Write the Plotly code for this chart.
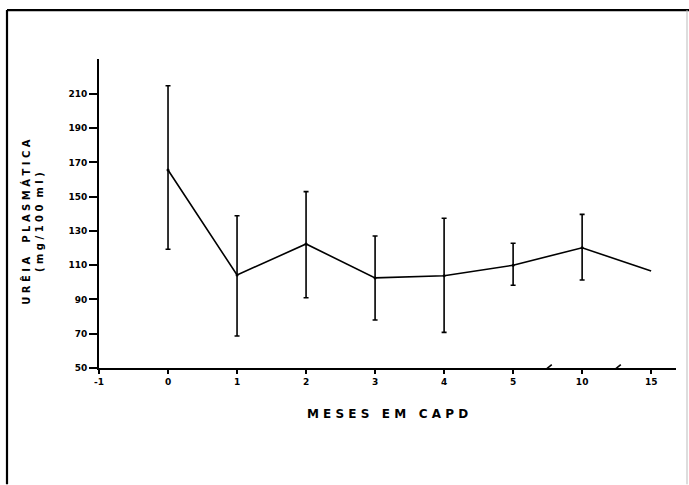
import plotly.graph_objects as go

# Data
months = ["-1", "0", "1", "2", "3", "4", "5", "10", "15"]
mean_months = ["0", "1", "2", "3", "4", "5", "10", "15"]
urea_mean = [165.6, 104.3, 122.4, 102.6, 103.9, 110.0, 120.2, 106.6]
err_months = ["0", "1", "2", "3", "4", "5", "10"]
err_upper = [214.8, 138.9, 153.0, 127.1, 137.4, 122.8, 139.7]
err_lower = [119.3, 68.7, 91.0, 78.0, 70.8, 98.3, 101.4]
y_ticks = [50, 70, 90, 110, 130, 150, 170, 190, 210]

pos = {m: i for i, m in enumerate(months)}
x_mean = [pos[m] for m in mean_months]
x_err = [pos[m] for m in err_months]
err_means = urea_mean[:len(err_months)]
plus = [u - m for u, m in zip(err_upper, err_means)]
minus = [m - l for l, m in zip(err_lower, err_means)]

font_fam = "DejaVu Sans"
fig = go.Figure()
fig.add_trace(go.Scatter(x=x_mean, y=urea_mean, mode="lines",
                         line=dict(color="black", width=1.6),
                         hoverinfo="skip", showlegend=False))
fig.add_trace(go.Scatter(x=x_err, y=err_means, mode="markers",
                         marker=dict(color="black", size=3),
                         error_y=dict(type="data", symmetric=False, array=plus,
                                      arrayminus=minus, color="black",
                                      thickness=1.6, width=2.5),
                         showlegend=False))

L, R, T, B = 99, 13, 59, 116.5
W, H = 689, 485
pw, ph = W - L - R, H - T - B
def px(x):
    return (x - L) / pw
def py(y):
    return (H - B - y) / ph

shapes = [
    dict(type="line", xref="paper", yref="paper", x0=px(7), x1=px(7), y0=py(10), y1=py(485),
         line=dict(color="black", width=2.2)),
    dict(type="line", xref="paper", yref="paper", x0=px(7), x1=px(689), y0=py(10), y1=py(10),
         line=dict(color="black", width=2.2)),
    dict(type="line", xref="paper", yref="paper", x0=px(687), x1=px(687), y0=py(10), y1=py(485),
         line=dict(color="#bbbbbb", width=1)),
]
for bx in [6.5, 7.5]:
    shapes.append(dict(type="line", xref="x", yref="y", x0=bx - 0.06, x1=bx + 0.06,
                       y0=48, y1=52, line=dict(color="black", width=1.6)))

fig.update_layout(
    width=W, height=H,
    margin=dict(l=L, r=R, t=T, b=B),
    paper_bgcolor="white", plot_bgcolor="white",
    shapes=shapes,
    xaxis=dict(range=[0, 8.36], tickvals=list(range(len(months))),
               ticktext=[f"<b>{m}</b>" for m in months],
               ticks="outside", ticklen=4, tickwidth=1.5, tickcolor="black",
               showline=True, linecolor="black", linewidth=1.8, showgrid=False,
               zeroline=False,
               tickfont=dict(family=font_fam, size=9, color="black")),
    yaxis=dict(range=[50, 230.4], tickvals=y_ticks,
               ticktext=[f"<b>{v}</b>" for v in y_ticks],
               ticks="outside", ticklen=8,
               tickwidth=1.5, tickcolor="black", showline=True, linecolor="black",
               linewidth=1.8, showgrid=False, zeroline=False,
               tickfont=dict(family=font_fam, size=9, color="black")),
    annotations=[
        dict(text="<b>M E S E S   E M   C A P D</b>", xref="paper", yref="paper",
             x=px(387), y=py(415), xanchor="center", yanchor="middle", showarrow=False,
             font=dict(family=font_fam, size=12, color="black")),
        dict(text="<b>U R Ê I A    P L A S M Á T I C A</b><br><b>( m g / 1 0 0  m l )</b>",
             xref="paper", yref="paper", x=px(33), y=py(222), textangle=-90,
             xanchor="center", yanchor="middle",
             showarrow=False, align="center",
             font=dict(family=font_fam, size=10, color="black")),
    ],
)
fig.write_html("out.html")
